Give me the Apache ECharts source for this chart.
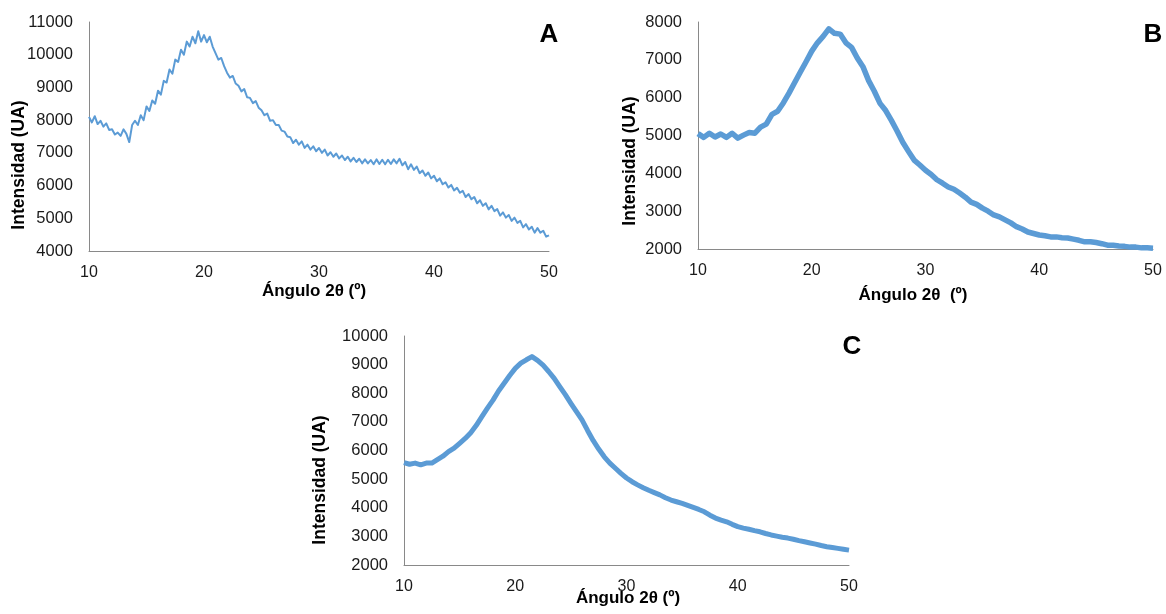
<!DOCTYPE html>
<html>
<head>
<meta charset="utf-8">
<script src="https://cdn.jsdelivr.net/npm/echarts@6/dist/echarts.min.js"></script>
<style>
html,body{margin:0;padding:0;background:#fff;}
#chart{width:1166px;height:614px;}
</style>
</head>
<body>
<div id="chart"></div>
<script>
// ---- Data ----
const xTicks = [10, 20, 30, 40, 50];
// Panel A: 2θ from 10 to 50, step 0.25°
const angleStartA = 10, angleStepA = 0.25;
const intensityA = [
  8100, 7930, 8120, 7880,
  7980, 7800, 7900, 7700,
  7720, 7560, 7620, 7520,
  7720, 7580, 7330, 7850,
  7980, 7850, 8150, 8000,
  8420, 8280, 8600, 8500,
  8900, 8780, 9200, 9150,
  9550, 9420, 9850, 9780,
  10150, 10000, 10400, 10250,
  10550, 10350, 10720, 10400,
  10600, 10380, 10550, 10250,
  10050, 9850, 9900, 9650,
  9450, 9300, 9350, 9120,
  9050, 8880, 8950, 8700,
  8680, 8520, 8580, 8380,
  8300, 8150, 8200, 7980,
  8000, 7850, 7850, 7680,
  7650, 7500, 7480, 7300,
  7400, 7250, 7350, 7150,
  7250, 7100, 7200, 7050,
  7150, 7000, 7100, 6920,
  7020, 6880, 6980, 6830,
  6920, 6780, 6880, 6740,
  6850, 6720, 6820, 6680,
  6800, 6680, 6780, 6650,
  6800, 6660, 6790, 6650,
  6790, 6660, 6800, 6680,
  6820, 6620, 6720, 6500,
  6650, 6480, 6580, 6380,
  6460, 6300, 6400, 6220,
  6300, 6130, 6220, 6040,
  6100, 5940, 6020, 5850,
  5930, 5780, 5840, 5650,
  5740, 5580, 5650, 5460,
  5550, 5380, 5460, 5270,
  5380, 5220, 5280, 5080,
  5180, 5020, 5100, 4920,
  5020, 4860, 4920, 4720,
  4820, 4660, 4740, 4560,
  4700, 4560, 4620, 4440,
  4480
];
// Panel B: 2θ from 10 to 50, step 0.5°
const angleStartB = 10, angleStepB = 0.5;
const intensityB = [
  5050, 4950, 5060, 4960, 5040, 4950, 5060, 4930, 5010, 5080,
  5060, 5220, 5300, 5560, 5640, 5860, 6120, 6400, 6680, 6950,
  7230, 7450, 7620, 7820, 7700, 7680, 7450, 7330, 7050, 6820,
  6450, 6170, 5850, 5660, 5400, 5120, 4820, 4580, 4350, 4220,
  4080, 3970, 3830, 3740, 3640, 3580, 3480, 3370, 3240, 3180,
  3080, 3000, 2900, 2850, 2770, 2690, 2590, 2530, 2450, 2410,
  2370, 2350, 2320, 2320, 2300, 2290, 2260, 2230, 2190, 2190,
  2170, 2140, 2100, 2100, 2080, 2070, 2050, 2050, 2030, 2030,
  2020
];
// Panel C: 2θ from 10 to 50, step 0.5°
const angleStartC = 10, angleStepC = 0.5;
const intensityC = [
  5580, 5520, 5560, 5500, 5560, 5560, 5680, 5800, 5960, 6080,
  6250, 6420, 6620, 6880, 7180, 7480, 7760, 8080, 8350, 8620,
  8870, 9050, 9170, 9280, 9150, 8980, 8760, 8520, 8230, 7950,
  7650, 7360, 7070, 6700, 6350, 6050, 5780, 5560, 5380, 5200,
  5040, 4910, 4800, 4700, 4610, 4530, 4450, 4350, 4270, 4210,
  4150, 4080, 4010, 3940, 3860, 3740, 3640, 3570, 3510, 3420,
  3340, 3290, 3250, 3200, 3160, 3100, 3050, 3010, 2970, 2940,
  2900, 2850, 2810, 2770, 2730, 2680, 2640, 2610, 2580, 2550,
  2520
];
const panelLetters = ['A', 'B', 'C'];
const yTitle = 'Intensidad (UA)';
const xTitles = ['Ángulo 2θ (º)', 'Ángulo 2θ  (º)', 'Ángulo 2θ (º)'];
const yRanges = [[4000, 11000], [2000, 8000], [2000, 10000]];

// ---- Build chart ----
function pairs(start, step, vals) {
  return vals.map((v, i) => [start + i * step, v]);
}
const FONT = '"Liberation Sans", Arial, sans-serif';
const LINE = '#5B9BD5';
const AXIS = '#898989';
const TXT = '#1a1a1a';

const grids = [
  {left: 89, top: 22, width: 460, height: 229},
  {left: 698, top: 22, width: 455, height: 227},
  {left: 404, top: 336, width: 445, height: 229}
];

const xAxes = grids.map((g, i) => ({
  type: 'value', gridIndex: i, min: 10, max: 50, interval: 10,
  axisLine: {show: true, lineStyle: {color: AXIS, width: 1}},
  axisTick: {show: false}, splitLine: {show: false},
  axisLabel: {color: TXT, fontSize: 16, fontFamily: FONT, margin: 14,
    formatter: v => xTicks.includes(v) ? String(v) : ''}
}));
const yAxes = grids.map((g, i) => ({
  type: 'value', gridIndex: i, min: yRanges[i][0], max: yRanges[i][1], interval: 1000,
  axisLine: {show: true, lineStyle: {color: AXIS, width: 1}},
  axisTick: {show: false}, splitLine: {show: false},
  axisLabel: {color: TXT, fontSize: 16.5, fontFamily: FONT, margin: 16,
    formatter: v => String(v)}
}));

const series = [
  {data: pairs(angleStartA, angleStepA, intensityA), w: 2},
  {data: pairs(angleStartB, angleStepB, intensityB), w: 5.5},
  {data: pairs(angleStartC, angleStepC, intensityC), w: 5}
].map((s, i) => ({
  type: 'line', xAxisIndex: i, yAxisIndex: i, data: s.data,
  showSymbol: false, symbol: 'none', smooth: false, animation: false,
  lineStyle: {color: LINE, width: s.w, join: 'round'}
}));

const txt = (text, x, y, size, rot) => ({
  type: 'text', x: x, y: y, rotation: rot || 0,
  style: {text: text, fill: '#000', font: 'bold ' + size + 'px ' + FONT,
    textAlign: 'center', textVerticalAlign: 'middle'}
});

const graphic = [
  txt(yTitle, 19, 165, 17.5, Math.PI / 2),
  txt(yTitle, 630, 161, 17.5, Math.PI / 2),
  txt(yTitle, 320, 480, 17.5, Math.PI / 2),
  txt(xTitles[0], 314, 291, 17),
  txt(xTitles[1], 913, 295, 17),
  txt(xTitles[2], 628, 598, 17),
  txt(panelLetters[0], 549, 35, 26),
  txt(panelLetters[1], 1153, 35, 26),
  txt(panelLetters[2], 852, 347, 26)
];

const chart = echarts.init(document.getElementById('chart'), null, {renderer: 'canvas'});
chart.setOption({
  animation: false,
  backgroundColor: '#fff',
  grid: grids,
  xAxis: xAxes,
  yAxis: yAxes,
  series: series,
  graphic: graphic
});
</script>
</body>
</html>
